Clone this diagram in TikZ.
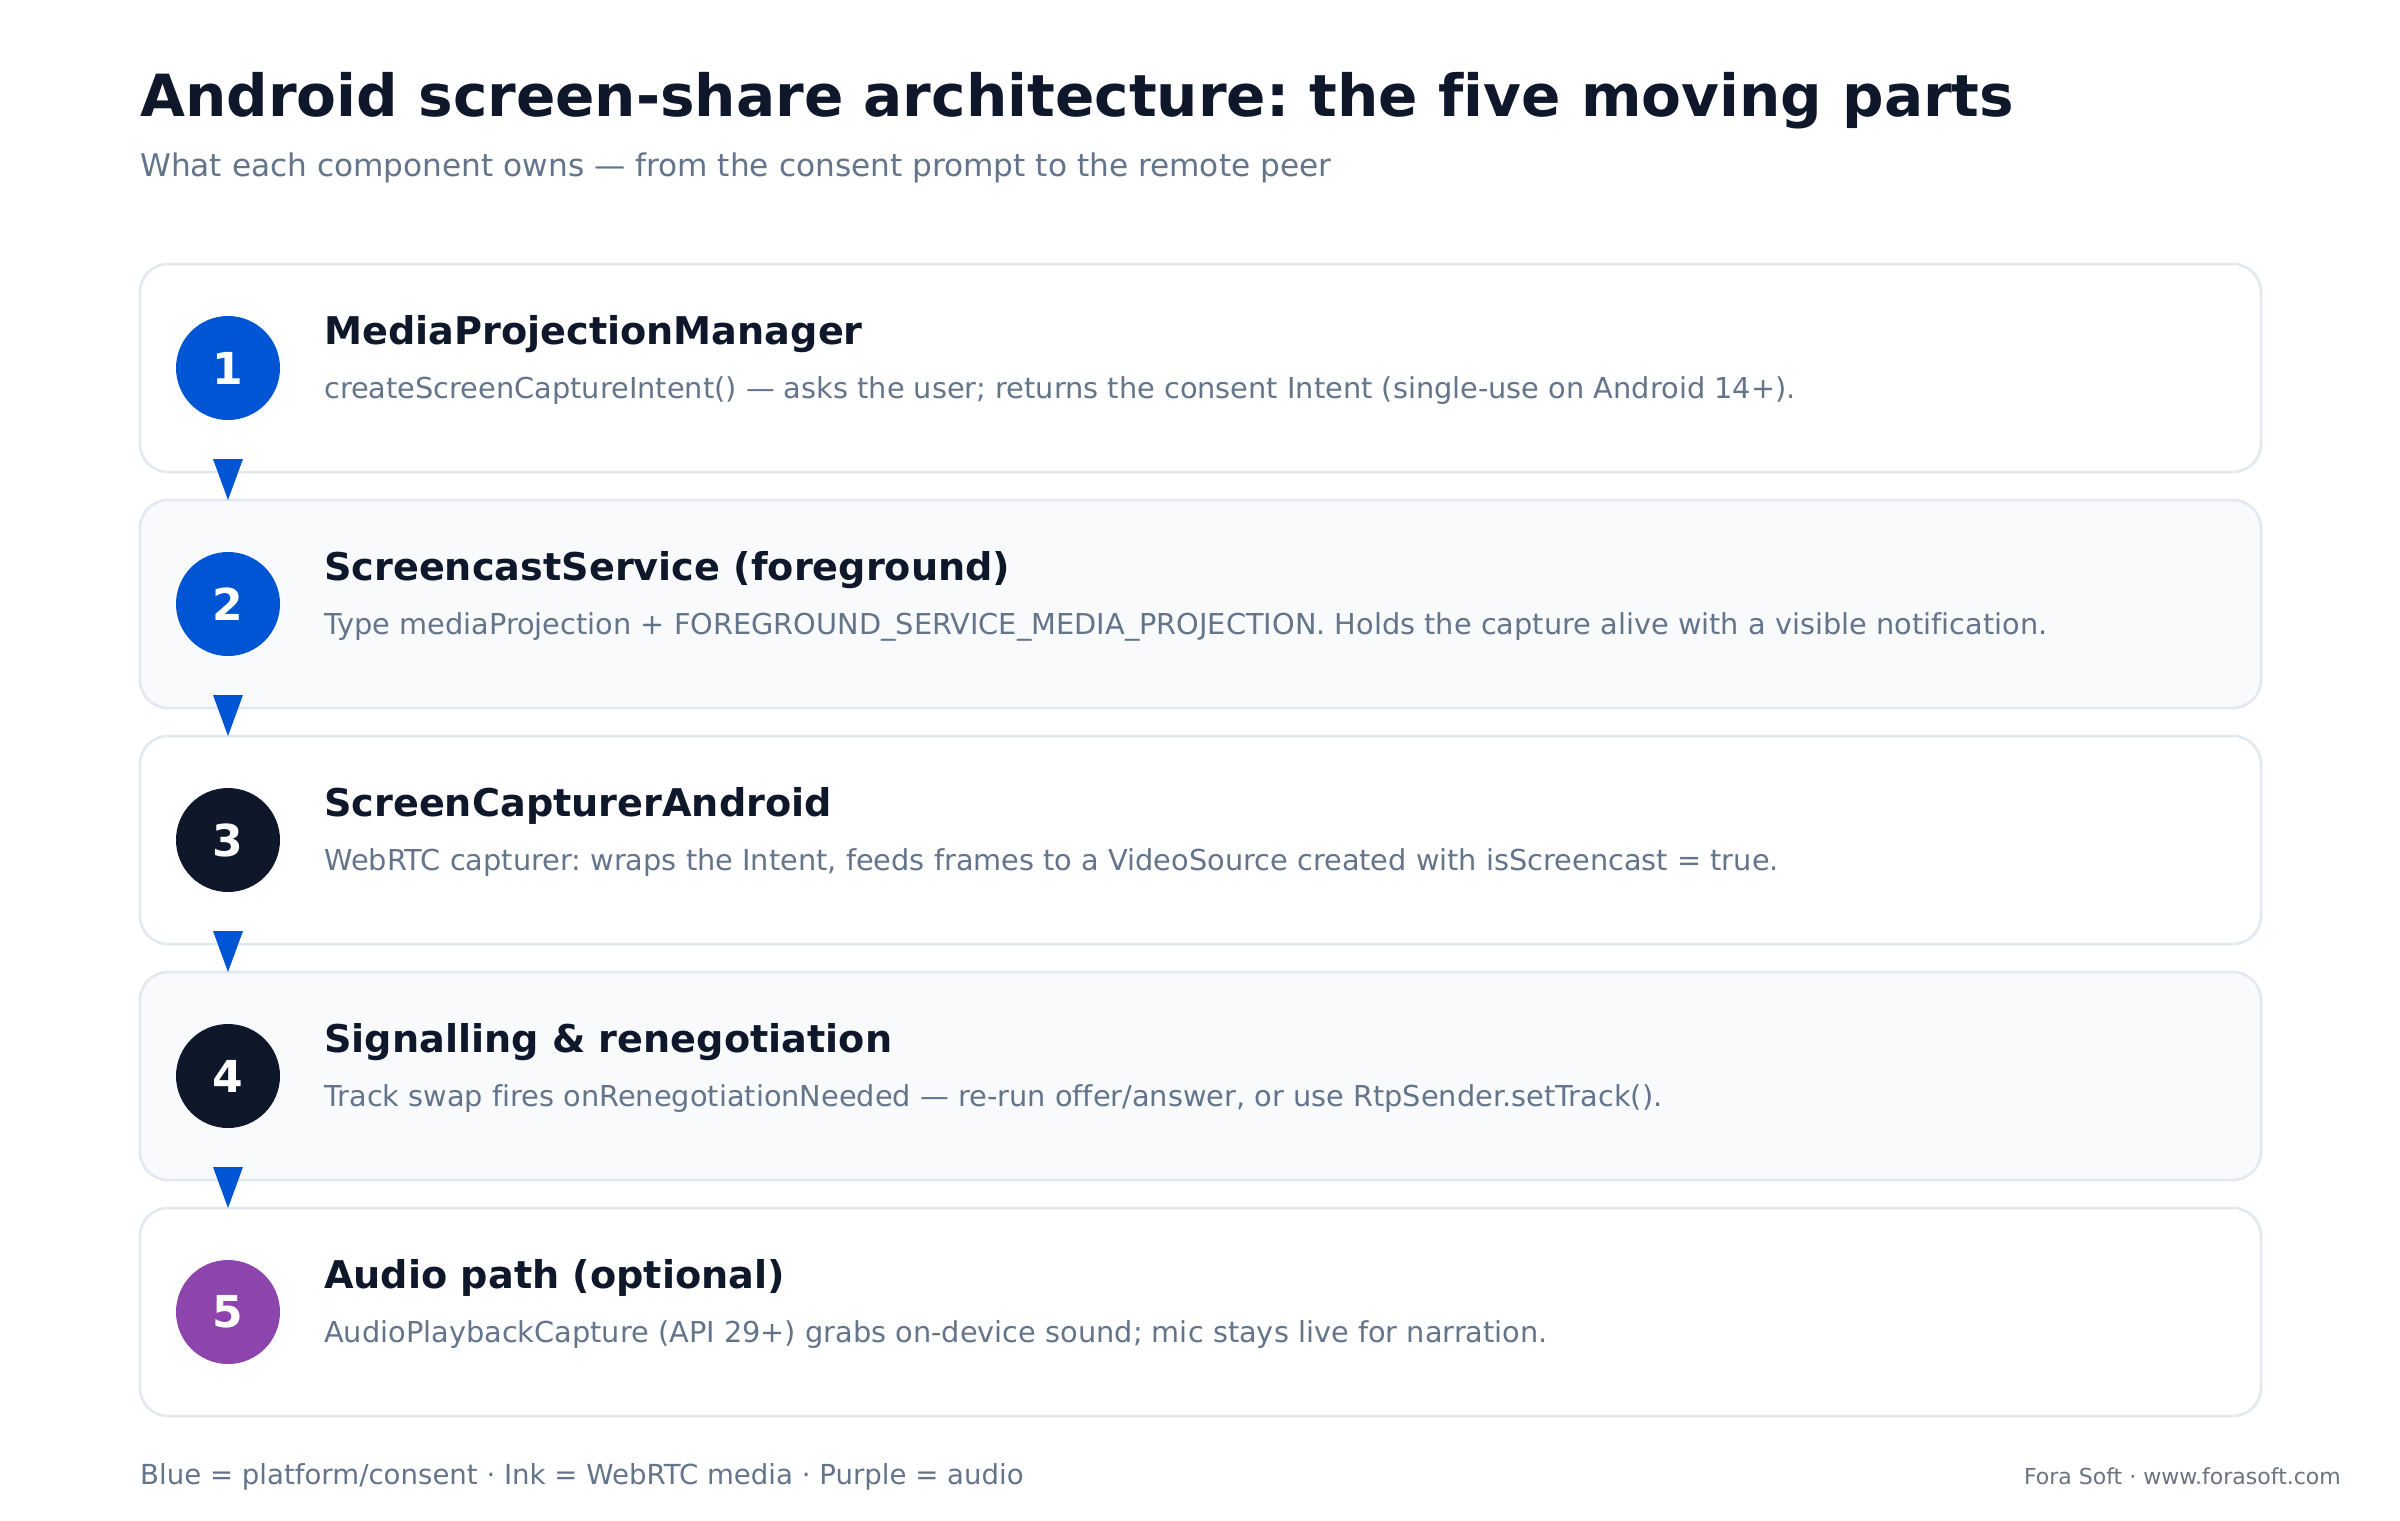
\documentclass[tikz,border=0pt]{standalone}
\usepackage{fontspec}
\setmainfont[Ligatures=NoCommon]{DejaVu Sans}
\frenchspacing
\definecolor{ink}{HTML}{0F172A}
\definecolor{pblue}{HTML}{0055D4}
\definecolor{purp}{HTML}{8E44AD}
\definecolor{muted}{HTML}{64748B}
\definecolor{faint}{HTML}{6B7280}
\definecolor{edge}{HTML}{E2E8F0}
\definecolor{alt}{HTML}{F8FAFC}
\tikzset{
  card/.style={draw=edge, line width=2.5pt, rounded corners=28pt, fill=white,
    minimum width=2121pt, minimum height=208pt, anchor=north west, inner sep=0pt, outer sep=0pt},
  altcard/.style={card, fill=alt},
  badge/.style={circle, minimum size=104pt, inner sep=0pt, text=white,
    font=\fontsize{44}{48}\selectfont\bfseries},
  cardtitle/.style={anchor=base west, inner sep=0pt, text=ink,
    font=\fontsize{38.2}{42}\selectfont\bfseries},
  carddesc/.style={anchor=base west, inner sep=0pt, text=muted,
    font=\fontsize{28.8}{32}\selectfont},
  flowtip/.style={fill=pblue},
}
\begin{document}
\begin{tikzpicture}[x=1pt,y=-1pt]
\useasboundingbox[fill=white] (0,0) rectangle (2400,1520);
\node[anchor=base west, inner sep=0pt, text=ink, font=\fontsize{58.1}{64}\selectfont\bfseries] (title) at (140,116) {Android screen-share architecture: the five moving parts};
\node[anchor=base west, inner sep=0pt, text=muted, font=\fontsize{31.2}{34}\selectfont] (subtitle) at (140,176) {What each component owns — from the consent prompt to the remote peer};

\node[card] (b1) at (140,264) {};
\node[altcard] (b2) at (140,500) {};
\node[card] (b3) at (140,736) {};
\node[altcard] (b4) at (140,972) {};
\node[card] (b5) at (140,1208) {};

\node[badge, fill=pblue] (c1) at (228,368) {1};
\node[badge, fill=pblue] (c2) at (228,604) {2};
\node[badge, fill=ink] (c3) at (228,840) {3};
\node[badge, fill=ink] (c4) at (228,1076) {4};
\node[badge, fill=purp] (c5) at (228,1312) {5};

\node[cardtitle] (t1) at (324,344) {MediaProjectionManager};
\node[carddesc] (d1) at (324,398) {createScreenCaptureIntent() — asks the user; returns the consent Intent (single-use on Android 14+).};
\node[cardtitle] (t2) at (324,580) {ScreencastService (foreground)};
\node[carddesc] (d2) at (324,634) {Type mediaProjection + FOREGROUND\_SERVICE\_MEDIA\_PROJECTION. Holds the capture alive with a visible notification.};
\node[cardtitle] (t3) at (324,816) {ScreenCapturerAndroid};
\node[carddesc] (d3) at (324,870) {WebRTC capturer: wraps the Intent, feeds frames to a VideoSource created with isScreencast = true.};
\node[cardtitle] (t4) at (324,1052) {Signalling \& renegotiation};
\node[carddesc] (d4) at (324,1106) {Track swap fires onRenegotiationNeeded — re-run offer/answer, or use RtpSender.setTrack().};
\node[cardtitle] (t5) at (324,1288) {Audio path (optional)};
\node[carddesc] (d5) at (324,1342) {AudioPlaybackCapture (API 29+) grabs on-device sound; mic stays live for narration.};

\foreach \a/\b in {b1/b2,b2/b3,b3/b4,b4/b5}{
  \fill[flowtip] ([xshift=-15pt,yshift=13pt]c1.center |- \a.south) -- ([xshift=15pt,yshift=13pt]c1.center |- \a.south) -- (c1.center |- \b.north) -- cycle;
}

\node[anchor=base west, inner sep=0pt, text=muted, font=\fontsize{27.6}{30}\selectfont] (legend) at (140,1484) {Blue = platform/consent · Ink = WebRTC media · Purple = audio};
\node[anchor=base east, inner sep=0pt, text=faint, font=\fontsize{22}{26}\selectfont] (credit) at (2341,1484) {Fora Soft · www.forasoft.com};
\end{tikzpicture}
\end{document}
